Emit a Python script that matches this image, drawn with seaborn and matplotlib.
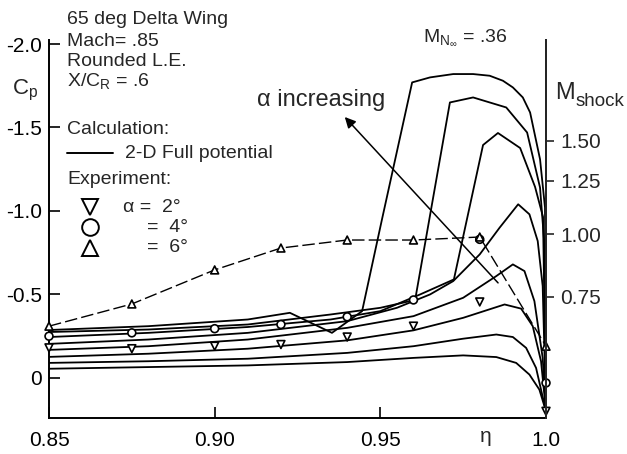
import numpy as np
import pandas as pd
import matplotlib
matplotlib.use("Agg")
import matplotlib.pyplot as plt
import seaborn as sns

# ---- calculation curves (2-D full potential), eta vs Cp ----
eta_c1 = [0.85, 0.88, 0.91, 0.94, 0.96, 0.975, 0.985, 0.991, 0.995, 0.998, 1.0]
cp_c1 = [-0.055, -0.065, -0.075, -0.095, -0.12, -0.135, -0.125, -0.09, -0.02, 0.07, 0.20]

eta_c2 = [0.85, 0.88, 0.91, 0.94, 0.96, 0.975, 0.985, 0.990, 0.994, 0.997, 1.0]
cp_c2 = [-0.09, -0.10, -0.115, -0.15, -0.19, -0.235, -0.26, -0.245, -0.18, -0.06, 0.20]

eta_c3 = [0.85, 0.88, 0.91, 0.94, 0.96, 0.975, 0.9875, 0.9925, 0.996, 0.9985, 1.0]
cp_c3 = [-0.126, -0.145, -0.175, -0.225, -0.285, -0.36, -0.44, -0.415, -0.31, -0.10, 0.20]

eta_c4 = [0.85, 0.88, 0.91, 0.94, 0.96, 0.975, 0.985, 0.990, 0.9935, 0.9965, 0.999, 1.0]
cp_c4 = [-0.168, -0.19, -0.23, -0.30, -0.37, -0.48, -0.61, -0.68, -0.64, -0.46, -0.12, 0.20]

eta_c5 = [0.85, 0.88, 0.91, 0.94, 0.955, 0.965, 0.972, 0.980, 0.986, 0.9916, 0.995, 0.9975, 0.999, 1.0]
cp_c5 = [-0.204, -0.23, -0.27, -0.34, -0.42, -0.50, -0.58, -0.74, -0.90, -1.04, -0.98, -0.82, -0.55, 0.20]

eta_c6 = [0.85, 0.88, 0.91, 0.935, 0.95, 0.962, 0.9722, 0.981, 0.9855, 0.9922, 0.9967, 0.9991, 1.0]
cp_c6 = [-0.245, -0.27, -0.305, -0.35, -0.40, -0.50, -0.59, -1.395, -1.467, -1.377, -1.144, -0.964, 0.20]

eta_c7 = [0.85, 0.88, 0.91, 0.935, 0.95, 0.9605, 0.971, 0.978, 0.988, 0.9943, 0.9982, 0.9994, 1.0]
cp_c7 = [-0.275, -0.29, -0.32, -0.38, -0.42, -0.467, -1.65, -1.68, -1.62, -1.47, -1.14, -0.83, 0.20]

eta_c8 = [0.85, 0.88, 0.91, 0.9227, 0.9354, 0.9445, 0.9505, 0.9596, 0.965, 0.972, 0.978,
          0.983, 0.987, 0.990, 0.993, 0.9952, 0.9982, 0.9997, 1.0]
cp_c8 = [-0.287, -0.31, -0.35, -0.39, -0.27, -0.40, -0.95, -1.77, -1.80, -1.82, -1.82,
         -1.81, -1.78, -1.74, -1.68, -1.59, -1.31, -1.02, 0.20]

# ---- experiment ----
eta_exp = [0.85, 0.875, 0.90, 0.92, 0.94, 0.96, 0.98, 1.0]
cp_a2 = [-0.18, -0.175, -0.19, -0.20, -0.245, -0.31, -0.455, 0.20]
cp_a4 = [-0.25, -0.27, -0.295, -0.32, -0.366, -0.467, -0.83, 0.03]
cp_a6 = [-0.31, -0.443, -0.647, -0.778, -0.826, -0.826, -0.844, -0.19]

# ---- M_shock scale (right axis), Cp where each Mach tick sits ----
m_shock_ticks = ["0.75", "1.00", "1.25", "1.50"]
m_shock_cp = [-0.485, -0.86, -1.18, -1.42]

# arrow "alpha increasing": tail and head in (eta, Cp)
arrow_tail = (0.9861, -0.557)
arrow_head = (0.9387, -1.575)

calc_list = [(eta_c1, cp_c1), (eta_c2, cp_c2), (eta_c3, cp_c3), (eta_c4, cp_c4),
             (eta_c5, cp_c5), (eta_c6, cp_c6), (eta_c7, cp_c7), (eta_c8, cp_c8)]
calc = pd.concat([pd.DataFrame({"eta": e, "cp": c, "curve": i})
                  for i, (e, c) in enumerate(calc_list)], ignore_index=True)
exp = pd.DataFrame({
    "eta": eta_exp * 3,
    "cp": cp_a2 + cp_a4 + cp_a6,
    "alpha": ["2"] * 8 + ["4"] * 8 + ["6"] * 8,
})

sns.set_style("ticks")
plt.rcParams["font.family"] = ["Liberation Sans", "DejaVu Sans"]
plt.rcParams["mathtext.fontset"] = "custom"
plt.rcParams["mathtext.rm"] = "Liberation Sans"
plt.rcParams["mathtext.it"] = "Liberation Sans"

W, H = 627, 454
fig = plt.figure(figsize=(W / 100, H / 100), dpi=100)
ax = fig.add_axes([49 / W, 1 - 418 / H, (546 - 49) / W, (418 - 40) / H])


def px(x, y):
    return x / W, 1 - y / H


sns.lineplot(data=calc, x="eta", y="cp", units="curve", estimator=None, sort=False,
             color="black", lw=1.3, ax=ax, legend=False)

a6 = exp[exp["alpha"] == "6"]
ax.plot(a6["eta"], a6["cp"], color="black", lw=1.0, dashes=(9, 3), clip_on=False, zorder=3)

sns.scatterplot(data=exp, x="eta", y="cp", style="alpha",
                markers={"2": "v", "4": "o", "6": "^"}, s=32, facecolor="white",
                edgecolor="black", linewidth=1.2, ax=ax, legend=False, zorder=4, clip_on=False)

ax.annotate("", xy=arrow_head, xytext=arrow_tail,
            arrowprops=dict(arrowstyle="-|>", color="black", lw=1.1, mutation_scale=16))

ax.set_xlim(0.85, 1.0)
ax.set_ylim(0.24, -2.024)
ax.set_xticks([0.85, 0.90, 0.95, 1.0])
ax.set_xticklabels(["0.85", "0.90", "0.95", "1.0"])
ax.set_yticks([0, -0.5, -1.0, -1.5, -2.0])
ax.set_yticklabels(["0", "-0.5", "-1.0", "-1.5", "-2.0"])
ax.set_xlabel("")
ax.set_ylabel("")
ax.tick_params(direction="in", length=8, width=1.2, labelsize=15, pad=5, colors="black")
ax.tick_params(axis="x", pad=9)
ax.spines["top"].set_visible(False)
for s in ["left", "bottom", "right"]:
    ax.spines[s].set_linewidth(1.4)
    ax.spines[s].set_color("black")

tw = ax.twinx()
tw.set_position(ax.get_position())
tw.set_ylim(ax.get_ylim())
tw.set_yticks(m_shock_cp)
tw.set_yticklabels(m_shock_ticks)
tw.tick_params(axis="y", direction="out", length=6, width=1.2, labelsize=15, pad=4)
for s in ["top", "left", "bottom"]:
    tw.spines[s].set_visible(False)
tw.spines["right"].set_linewidth(1.4)

fs = 14
fig.text(*px(67, 20), "65 deg Delta Wing", fontsize=fs, va="center")
fig.text(*px(67, 41), "Mach= .85", fontsize=fs, va="center")
fig.text(*px(67, 61), "Rounded L.E.", fontsize=fs, va="center")
fig.text(*px(67, 81), r"X/C$_\mathregular{R}$ = .6", fontsize=fs, va="center")
fig.text(*px(12, 90), r"C$_\mathregular{p}$", fontsize=16, va="center")
fig.text(*px(67, 129), "Calculation:", fontsize=fs, va="center")
fig.add_artist(plt.Line2D([67 / W, 113 / W], [1 - 153 / H] * 2, color="black", lw=1.4))
fig.text(*px(125, 153), "2-D Full potential", fontsize=fs, va="center")
fig.text(*px(67, 180), "Experiment:", fontsize=fs, va="center")
for yy, mk in [(207, "v"), (227, "o"), (248, "^")]:
    fig.add_artist(plt.Line2D([90 / W], [1 - yy / H], marker=mk, ms=12, mfc="white",
                              mec="black", mew=1.4, ls="none"))
fig.text(*px(123, 207), "α =  2°", fontsize=fs, va="center")
fig.text(*px(147, 227), "=  4°", fontsize=fs, va="center")
fig.text(*px(147, 248), "=  6°", fontsize=fs, va="center")
fig.text(*px(257, 100), "α increasing", fontsize=17, va="center")
fig.text(*px(423, 38), r"M$_{\mathregular{N}_\infty}$ = .36", fontsize=14, va="center")
fig.text(*px(555, 93), "M", fontsize=17, va="center")
fig.text(*px(576, 101), "shock", fontsize=13.5, va="center")
fig.text(*px(486, 437), "η", fontsize=15, va="center", ha="center")

fig.savefig("out.png", dpi=100)
